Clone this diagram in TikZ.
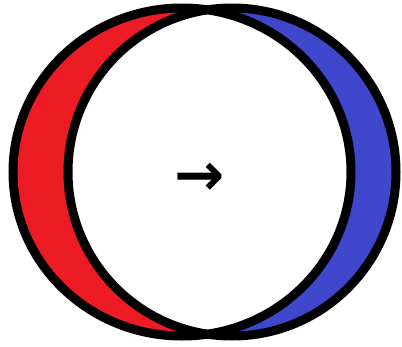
\documentclass[tikz,border=0pt]{standalone}
\usepackage{fontspec}
\usepackage{xcolor}
\usepackage{tikz}
\newfontfamily\arrowfont{DejaVu Sans}
\definecolor{lensred}{RGB}{237,28,36}
\definecolor{lensblue}{RGB}{63,72,204}

\begin{document}
\begin{tikzpicture}[
    x=1pt, y=-1pt,
    rim/.style={draw=black, line width=9pt},
    label/.style={font=\arrowfont\fontsize{60}{60}\bfseries\selectfont, inner sep=0pt}
  ]
    \useasboundingbox (0,0) rectangle (402,346);

    % Ellipses
    \fill[lensred] (182,172) ellipse [x radius=169, y radius=164];
    \fill[lensblue] (232,172) ellipse [x radius=164, y radius=164];

    % White lens in the middle
    \begin{scope}
      \clip (182,172) ellipse [x radius=169, y radius=164];
      \fill[white] (232,172) ellipse [x radius=164, y radius=164];
    \end{scope}

    % Outlines
    \draw[rim] (182,172) ellipse [x radius=169, y radius=164];
    \draw[rim] (232,172) ellipse [x radius=164, y radius=164];

    % Arrow
    \node[label] (dir) at (200,179) {→};
  \end{tikzpicture}
\end{document}
